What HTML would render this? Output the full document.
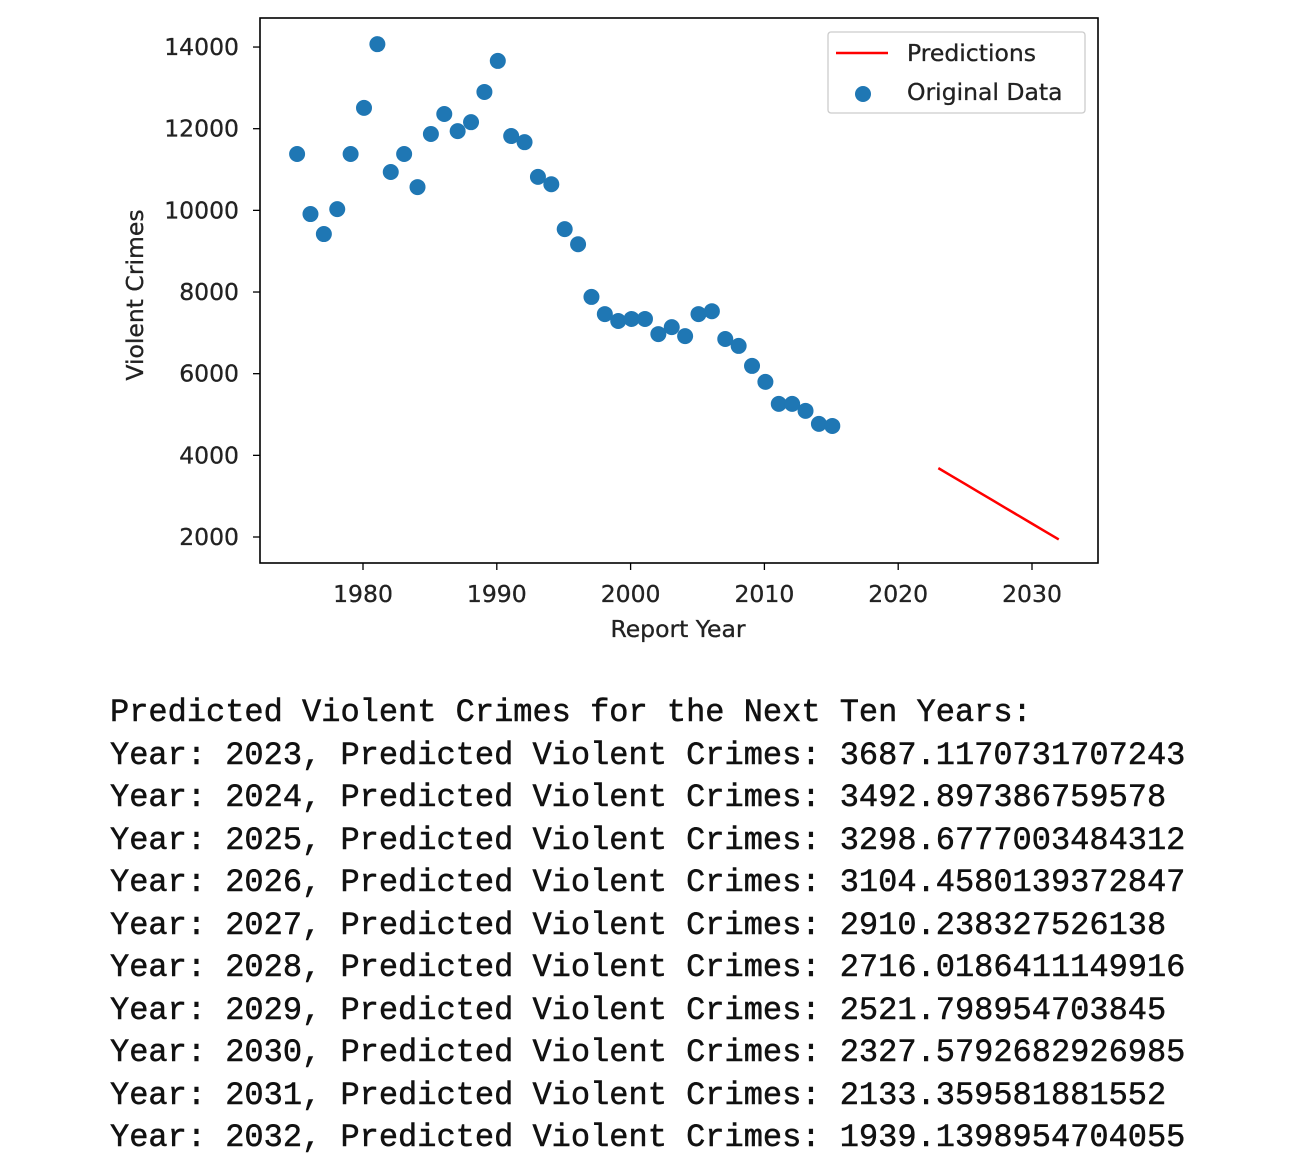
<!DOCTYPE html>
<html><head><meta charset="utf-8"><style>
body{margin:0;background:#fff;width:1302px;height:1171px;overflow:hidden}
svg{position:absolute;left:0;top:0}
.out{position:absolute;left:110px;top:692px;font-family:"Liberation Mono",monospace;font-size:32px;line-height:42.5px;color:#111;white-space:pre;-webkit-text-stroke:0.5px #111}
</style></head><body>
<svg width="1302" height="660" id="chart" font-family="DejaVu Sans, Liberation Sans, sans-serif"></svg>
<div class="out">Predicted Violent Crimes for the Next Ten Years:
Year: 2023, Predicted Violent Crimes: 3687.1170731707243
Year: 2024, Predicted Violent Crimes: 3492.897386759578
Year: 2025, Predicted Violent Crimes: 3298.6777003484312
Year: 2026, Predicted Violent Crimes: 3104.4580139372847
Year: 2027, Predicted Violent Crimes: 2910.238327526138
Year: 2028, Predicted Violent Crimes: 2716.0186411149916
Year: 2029, Predicted Violent Crimes: 2521.798954703845
Year: 2030, Predicted Violent Crimes: 2327.5792682926985
Year: 2031, Predicted Violent Crimes: 2133.359581881552
Year: 2032, Predicted Violent Crimes: 1939.1398954704055</div>
<script>
const years=[1975,1976,1977,1978,1979,1980,1981,1982,1983,1984,1985,1986,1987,1988,1989,1990,1991,1992,1993,1994,1995,1996,1997,1998,1999,2000,2001,2002,2003,2004,2005,2006,2007,2008,2009,2010,2011,2012,2013,2014,2015];
const crimes=[11380,9910,9420,10030,11380,12510,14070,10940,11380,10570,11870,12360,11940,12160,12900,13660,11820,11670,10820,10640,9540,9170,7880,7460,7290,7340,7340,6970,7140,6920,7460,7530,6850,6680,6190,5800,5260,5260,5090,4770,4720];
const predYears=[2023,2024,2025,2026,2027,2028,2029,2030,2031,2032];
const predVals=[3687.117,3492.897,3298.678,3104.458,2910.238,2716.019,2521.799,2327.579,2133.360,1939.140];
const xTicks=[1980,1990,2000,2010,2020,2030];
const yTicks=[2000,4000,6000,8000,10000,12000,14000];
const NS='http://www.w3.org/2000/svg';
const svg=document.getElementById('chart');
const X=v=>363+(v-1980)*13.38;
const Y=v=>537-(v-2000)*0.04083;
function mk(t,a,p){const e=document.createElementNS(NS,t);for(const k in a)e.setAttribute(k,a[k]);(p||svg).appendChild(e);return e;}
let e;
e=mk('rect',{x:260,y:18,width:838,height:545,fill:'none',stroke:'#000','stroke-width':1.6});


xTicks.forEach(t=>{
 mk('line',{x1:X(t),x2:X(t),y1:563,y2:570,stroke:'#000','stroke-width':1.3});
 e=mk('text',{x:X(t),y:602,'text-anchor':'middle','font-size':23.5,fill:'#222',stroke:'#222','stroke-width':0.3});e.textContent=t;
 
 
});
yTicks.forEach(t=>{
 mk('line',{x1:253,x2:260,y1:Y(t),y2:Y(t),stroke:'#000','stroke-width':1.3});
 e=mk('text',{x:239,y:Y(t)+8,'text-anchor':'end','font-size':23.5,fill:'#222',stroke:'#222','stroke-width':0.3});e.textContent=t;
 
 
});
e=mk('text',{x:678,y:637,'text-anchor':'middle','font-size':23.5,fill:'#222',stroke:'#222','stroke-width':0.3});e.textContent='Report Year';


e=mk('text',{x:0,y:0,'text-anchor':'middle','font-size':23.5,fill:'#222',stroke:'#222','stroke-width':0.3,transform:'translate(143,295) rotate(-90)'});e.textContent='Violent Crimes';


years.forEach((y,i)=>{
 e=mk('circle',{cx:X(y)+1,cy:Y(crimes[i]),r:8,fill:'#1f77b4'});
 
 
});
e=mk('polyline',{points:predYears.map((y,i)=>X(y)+','+Y(predVals[i])).join(' '),fill:'none',stroke:'#ff0000','stroke-width':2.5});


const lg=mk('g',{});


mk('rect',{x:828,y:32,width:257,height:81,rx:3,fill:'#fff',stroke:'#ccc','stroke-width':1.3},lg);
mk('line',{x1:836,x2:888,y1:53,y2:53,stroke:'#ff0000','stroke-width':2.5},lg);
e=mk('text',{x:907,y:61,'font-size':23.5,fill:'#222',stroke:'#222','stroke-width':0.3},lg);e.textContent='Predictions';


mk('circle',{cx:863,cy:94,r:8,fill:'#1f77b4'},lg);
e=mk('text',{x:907,y:100,'font-size':23.5,fill:'#222',stroke:'#222','stroke-width':0.3},lg);e.textContent='Original Data';


</script>
</body></html>
